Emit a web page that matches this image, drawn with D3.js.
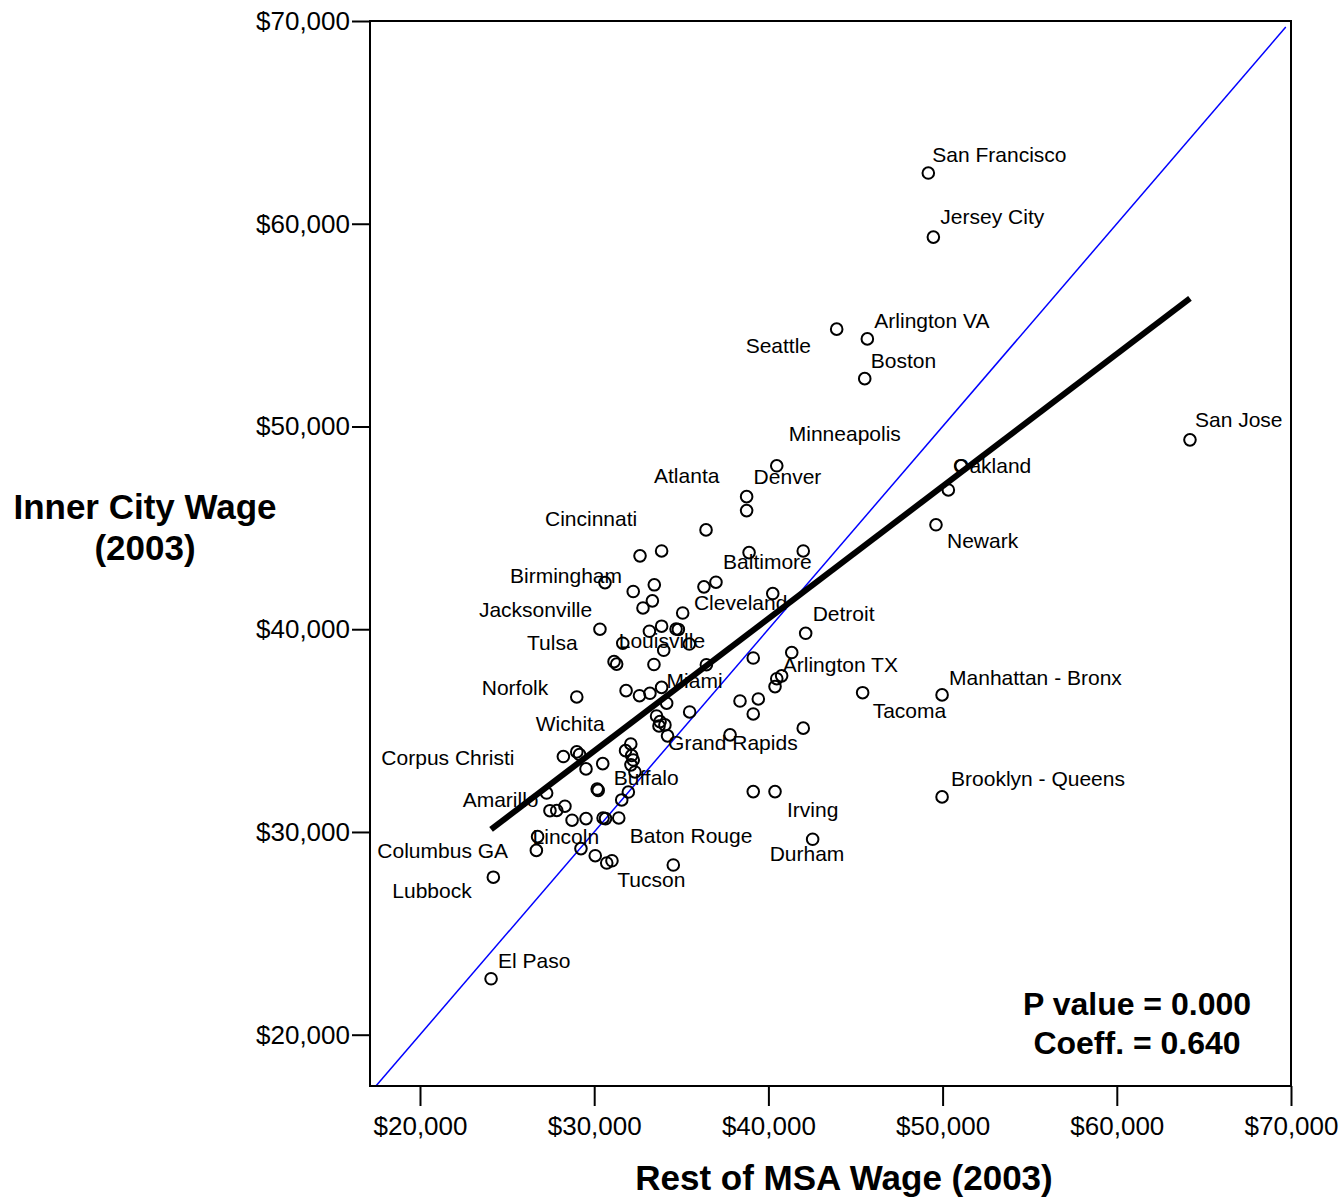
<!DOCTYPE html>
<html>
<head>
<meta charset="utf-8">
<script src="https://cdn.jsdelivr.net/npm/d3@7"></script>
<style>
  html, body { margin: 0; padding: 0; background: #ffffff; }
  svg { display: block; }
  text { font-family: "Liberation Sans", Arial, Helvetica, sans-serif; fill: #000; }
</style>
</head>
<body>
<svg id="chart" width="1342" height="1197"></svg>
<script>
// ---------------- DATA ----------------
// City names ("" = unlabeled city), 10 per row
const cities = [
  "San Francisco","Jersey City","Seattle","Arlington VA","Boston","San Jose","Minneapolis","Oakland","","Denver",
  "","Newark","Atlanta","Cincinnati","","Baltimore","","Birmingham","","",
  "","Cleveland","","","","","Jacksonville","","","",
  "","Louisville","","","Detroit","Arlington TX","","Tulsa","","",
  "","","","","Miami","","","","Norfolk","Tacoma",
  "Manhattan - Bronx","","","","","","","","","",
  "","Grand Rapids","","","Corpus Christi","Wichita","","","","",
  "","","","","","","Amarillo","","Buffalo","",
  "","","","","","","Baton Rouge","","Irving","Brooklyn - Queens",
  "Lincoln","Columbus GA","","","","","Durham","Tucson","Lubbock","El Paso"
];
// Rest of MSA wage (2003), dollars
const restWage = [
  49180,49470,43920,45680,45530,64200,40480,51060,50330,38750,
  38750,49620,36420,32630,33870,38890,42000,30620,32240,33450,
  36990,36300,40250,33340,32800,35080,30330,33870,33170,34700,
  34830,31640,35460,33990,42140,41340,39130,31140,31290,33430,
  36440,40760,40480,40380,33870,31830,32600,33200,29000,45410,
  49970,38370,39420,34160,35480,39130,33580,33780,34060,33720,
  34210,37800,42000,32100,28230,29000,29160,31800,32150,32240,
  32110,32340,29530,30490,30170,30230,27270,31960,31580,27460,
  27850,28320,28730,29530,30510,30650,31410,39130,40380,49970,
  26750,26680,29240,30060,30720,31020,42540,34540,24210,24080
];
// Inner city wage (2003), dollars
const innerWage = [
  62500,59340,54800,54320,52360,49340,48060,48060,46870,46540,
  45850,45150,44900,43620,43860,43780,43860,42300,41860,42190,
  42320,42090,41760,41400,41050,40800,40000,40150,39900,40010,
  39990,39310,39270,38960,39800,38850,38580,38400,38280,38260,
  38250,37700,37560,37170,37130,36970,36720,36840,36660,36870,
  36760,36460,36560,36350,35920,35820,35720,35440,35280,35230,
  34740,34790,35120,34340,33720,33950,33820,34010,33770,33550,
  33310,32960,33110,33370,32120,32050,31920,31970,31580,31050,
  31060,31270,30580,30660,30690,30660,30690,31990,31990,31730,
  29770,29090,29180,28830,28470,28580,29640,28370,27770,22760
];
// Fitted regression line endpoints
const fitX = [24080, 64200];
const fitY = [30130, 56320];

const xTicks = [20000, 30000, 40000, 50000, 60000, 70000];
const yTicks = [20000, 30000, 40000, 50000, 60000, 70000];
const xTitle = "Rest of MSA Wage (2003)";
const yTitle = ["Inner City Wage", "(2003)"];
const statLines = ["P value = 0.000", "Coeff. = 0.640"];

// ---------------- LAYOUT (label placement, px offsets from the point) ----------------
const labelOffsets = {
  "San Francisco": [4, -11], "Jersey City": [7, -13], "Arlington VA": [7, -11], "Seattle": [-91, 24],
  "Boston": [6, -11], "Minneapolis": [12, -25], "San Jose": [5, -13], "Oakland": [-8, 7],
  "Newark": [11, 23], "Atlanta": [-52, -47], "Denver": [7, -13], "Cincinnati": [-95, -30],
  "Baltimore": [-26, 16], "Birmingham": [-95, 0], "Cleveland": [-10, 23], "Jacksonville": [-121, -12],
  "Detroit": [7, -12], "Tulsa": [-87, -12], "Louisville": [-4, 5], "Arlington TX": [-9, 19],
  "Manhattan - Bronx": [7, -10], "Norfolk": [-95, -2], "Miami": [5, 1], "Tacoma": [10, 25],
  "Wichita": [-41, -21], "Grand Rapids": [-62, 15], "Corpus Christi": [-182, 8], "Buffalo": [-8, -15],
  "Brooklyn - Queens": [9, -11], "Amarillo": [-84, 14], "Irving": [12, 25], "Lincoln": [-5, 7],
  "Baton Rouge": [11, 25], "Columbus GA": [-159, 8], "Durham": [-43, 22], "Tucson": [-56, 22],
  "Lubbock": [-101, 21], "El Paso": [7, -11]
};

// ---------------- DRAW ----------------
const svg = d3.select("#chart");
const L = 370, R = 1291, T = 21, B = 1086;

const x = d3.scaleLinear().domain([17130, 70000]).range([L, R]);
const y = d3.scaleLinear().domain([17470, 70000]).range([B, T]);
const fmt = d => "$" + d3.format(",")(d);

svg.append("defs").append("clipPath").attr("id", "plotclip")
  .append("rect").attr("x", L).attr("y", T).attr("width", R - L).attr("height", B - T);

const plot = svg.append("g").attr("clip-path", "url(#plotclip)");

// 45-degree reference line (y = x)
const lo = Math.max(x.domain()[0], y.domain()[0]);
plot.append("line")
  .attr("x1", x(lo)).attr("y1", y(lo))
  .attr("x2", x(69700)).attr("y2", y(69700))
  .attr("stroke", "#0000ff").attr("stroke-width", 1.5);

// Regression line
const fitData = fitX.map((v, i) => [v, fitY[i]]);
plot.append("path")
  .datum(fitData)
  .attr("d", d3.line().x(d => x(d[0])).y(d => y(d[1])))
  .attr("fill", "none").attr("stroke", "#000").attr("stroke-width", 6)
  .attr("stroke-linecap", "butt");

// Points
const pts = restWage.map((v, i) => ({ name: cities[i], rx: v, iy: innerWage[i] }));
plot.selectAll("circle.pt").data(pts).enter().append("circle")
  .attr("class", "pt")
  .attr("cx", d => x(d.rx)).attr("cy", d => y(d.iy))
  .attr("r", 5.8)
  .attr("fill", "none").attr("stroke", "#000").attr("stroke-width", 2);

// Labels
svg.append("g").selectAll("text.lbl").data(pts.filter(d => d.name)).enter().append("text")
  .attr("class", "lbl")
  .attr("x", d => x(d.rx) + labelOffsets[d.name][0])
  .attr("y", d => y(d.iy) + labelOffsets[d.name][1])
  .attr("font-size", 21)
  .text(d => d.name);

// Frame
svg.append("rect").attr("x", L).attr("y", T).attr("width", R - L).attr("height", B - T)
  .attr("fill", "none").attr("stroke", "#000").attr("stroke-width", 2);

// Axes
const xAxis = d3.axisBottom(x).tickValues(xTicks).tickFormat(fmt).tickSize(20).tickPadding(7);
const gx = svg.append("g").attr("transform", `translate(0,${B})`).call(xAxis);
gx.select(".domain").remove();
gx.selectAll(".tick line").attr("stroke", "#000").attr("stroke-width", 2);
gx.selectAll(".tick text").attr("font-size", 26).attr("font-family", null).attr("fill", "#000")
  .attr("dy", "0.85em");

const yAxis = d3.axisLeft(y).tickValues(yTicks).tickFormat(fmt).tickSize(18).tickPadding(2);
const gy = svg.append("g").attr("transform", `translate(${L},0)`).call(yAxis);
gy.select(".domain").remove();
gy.selectAll(".tick line").attr("stroke", "#000").attr("stroke-width", 2);
gy.selectAll(".tick text").attr("font-size", 26).attr("font-family", null).attr("fill", "#000");

// Axis titles
svg.append("text").attr("x", 844).attr("y", 1190).attr("text-anchor", "middle")
  .attr("font-size", 35).attr("font-weight", "bold").text(xTitle);
svg.append("text").attr("x", 145).attr("y", 519).attr("text-anchor", "middle")
  .attr("font-size", 35).attr("font-weight", "bold").text(yTitle[0]);
svg.append("text").attr("x", 145).attr("y", 560).attr("text-anchor", "middle")
  .attr("font-size", 35).attr("font-weight", "bold").text(yTitle[1]);

// Statistics annotation
statLines.forEach((s, i) => {
  svg.append("text").attr("x", 1137).attr("y", 1015 + i * 39).attr("text-anchor", "middle")
    .attr("font-size", 32).attr("font-weight", "bold").text(s);
});
</script>
</body>
</html>
